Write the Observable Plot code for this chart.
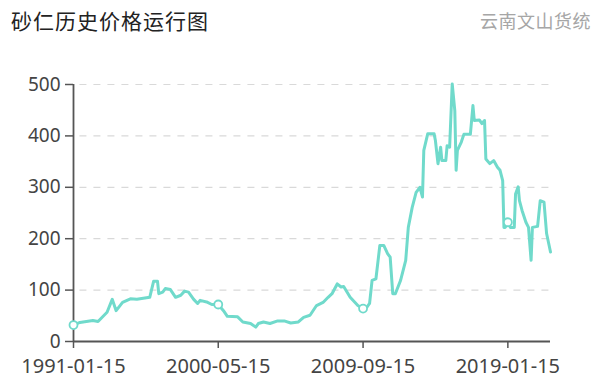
<!DOCTYPE html>
<html>
<head>
<meta charset="utf-8">
<script src="https://cdn.jsdelivr.net/npm/d3@7"></script>
<script src="https://cdn.jsdelivr.net/npm/@observablehq/plot@0.6"></script>
<style>
  html, body { margin: 0; padding: 0; background: #fff; }
  #wrap { position: relative; width: 600px; height: 388px; font-family: "Noto Sans CJK SC", "Noto Sans", sans-serif; }
  #title { position: absolute; left: 11px; top: 5px; font-size: 21px; color: #222; letter-spacing: 1px; line-height: 30px; }
  #source { position: absolute; right: 9px; top: 5px; font-size: 18px; color: #a6a6a6; letter-spacing: 0.5px; line-height: 30px; }
</style>
</head>
<body>
<div id="wrap">
  <div id="chart"></div>
  <div id="title">砂仁历史价格运行图</div>
  <div id="source">云南文山货统</div>
</div>
<script>
const titleText = "砂仁历史价格运行图";
const sourceText = "云南文山货统";

const dates = [
  "1991-01-15","1991-06-15","1992-04-15","1992-08-15","1993-03-15","1993-07-15","1993-10-15","1994-03-15",
  "1994-09-15","1995-02-15","1995-07-15","1995-12-15","1996-03-15","1996-06-15","1996-07-15","1996-10-15",
  "1996-12-15","1997-04-15","1997-08-15","1997-12-15","1998-03-15","1998-06-15","1998-10-15","1999-01-15",
  "1999-03-15","1999-08-15","1999-12-15","2000-05-15","2000-09-15","2000-12-15","2001-08-15","2001-12-15",
  "2002-06-15","2002-10-15","2002-12-15","2003-04-15","2003-09-15","2004-03-15","2004-08-15","2005-01-15",
  "2005-07-15","2005-11-15","2006-04-15","2006-09-15","2007-02-15","2007-06-15","2007-09-15","2008-01-15",
  "2008-04-15","2008-06-15","2008-11-15","2009-05-15","2009-09-15","2009-12-15","2010-02-15","2010-04-15",
  "2010-07-15","2010-10-15","2011-01-15","2011-04-15","2011-06-15","2011-08-15","2011-10-15","2012-02-15",
  "2012-06-15","2012-08-15","2012-11-15","2013-02-15","2013-05-15","2013-07-15","2013-08-15","2013-11-15",
  "2014-04-15","2014-05-15","2014-07-15","2014-09-15","2014-10-15","2015-01-15","2015-02-15","2015-04-15",
  "2015-06-15","2015-08-15","2015-09-15","2015-10-15","2016-01-15","2016-03-15","2016-08-15","2016-10-15",
  "2016-11-15","2017-03-15","2017-05-15","2017-07-15","2017-08-15","2017-11-15","2018-02-15","2018-05-15",
  "2018-07-15","2018-09-15","2018-10-15","2018-11-15","2019-01-15","2019-03-15","2019-06-15","2019-07-15",
  "2019-09-15","2019-10-15","2019-12-15","2020-03-15","2020-05-15","2020-07-15","2020-08-15","2020-12-15",
  "2021-02-15","2021-05-15","2021-07-15","2021-10-15"
];
const prices = [
  32,37,41,39,57,82,60,76,
  83,82,84,86,117,117,93,96,
  103,101,86,90,98,96,82,74,
  80,77,72,72,60,49,48,38,
  35,28,35,38,35,40,40,36,
  38,47,51,70,76,86,93,112,
  106,107,86,70,64,67,74,119,
  122,187,187,171,164,93,93,119,
  158,222,261,290,300,281,372,404,
  404,391,346,378,352,352,381,378,
  501,449,333,372,388,403,403,459,
  430,431,424,430,355,346,352,339,
  333,313,222,222,232,222,222,287,
  301,274,255,232,222,158,222,224,
  274,271,210,174
];
const xTickLabels = ["1991-01-15","2000-05-15","2009-09-15","2019-01-15"];
const yTicks = [0,100,200,300,400,500];
const gridValues = [100,200,300,400,500];

const parse = d3.utcParse("%Y-%m-%d");
const fmt = d3.utcFormat("%Y-%m-%d");
const data = dates.map((d, i) => ({date: parse(d), price: prices[i]}));
const tickDates = xTickLabels.map(parse);
const markedPoints = data.filter(d => xTickLabels.includes(fmt(d.date)));

const lineColor = "#70dacb";
const axisColor = "#555";

const chart = Plot.plot({
  width: 600,
  height: 388,
  marginLeft: 73,
  marginRight: 50,
  marginTop: 84,
  marginBottom: 47,
  style: {fontFamily: "'Noto Sans', 'Noto Sans CJK SC', sans-serif", fontSize: "20px", color: "#444", background: "#fff"},
  x: {type: "utc", domain: [data[0].date, data[data.length - 1].date]},
  y: {domain: [0, 500]},
  marks: [
    Plot.ruleY(gridValues, {stroke: "#d9d9d9", strokeWidth: 1.2, strokeDasharray: "7,7", x1: d3.utcMonth.offset(data[0].date, 5), x2: data[data.length - 1].date}),
    Plot.axisY({ticks: yTicks, tickSize: 8, tickPadding: 5, tickFormat: d => String(d), stroke: axisColor, strokeWidth: 1.5, fill: "#444", fontSize: 19, label: null}),
    Plot.axisX({ticks: tickDates, tickSize: 7, tickPadding: 10, tickFormat: fmt, stroke: axisColor, strokeWidth: 1.5, fill: "#444", fontSize: 20, label: null}),
    Plot.ruleX([data[0].date], {y1: 0, y2: 500, stroke: axisColor, strokeWidth: 1.8}),
    Plot.ruleY([0], {stroke: axisColor, strokeWidth: 1.8}),
    Plot.line(data, {x: "date", y: "price", stroke: lineColor, strokeWidth: 3, strokeLinejoin: "round", strokeLinecap: "round"}),
    Plot.dot(markedPoints, {x: "date", y: "price", r: 4, fill: "#fff", stroke: lineColor, strokeWidth: 1.8})
  ]
});
document.getElementById("chart").appendChild(chart);
</script>
</body>
</html>
